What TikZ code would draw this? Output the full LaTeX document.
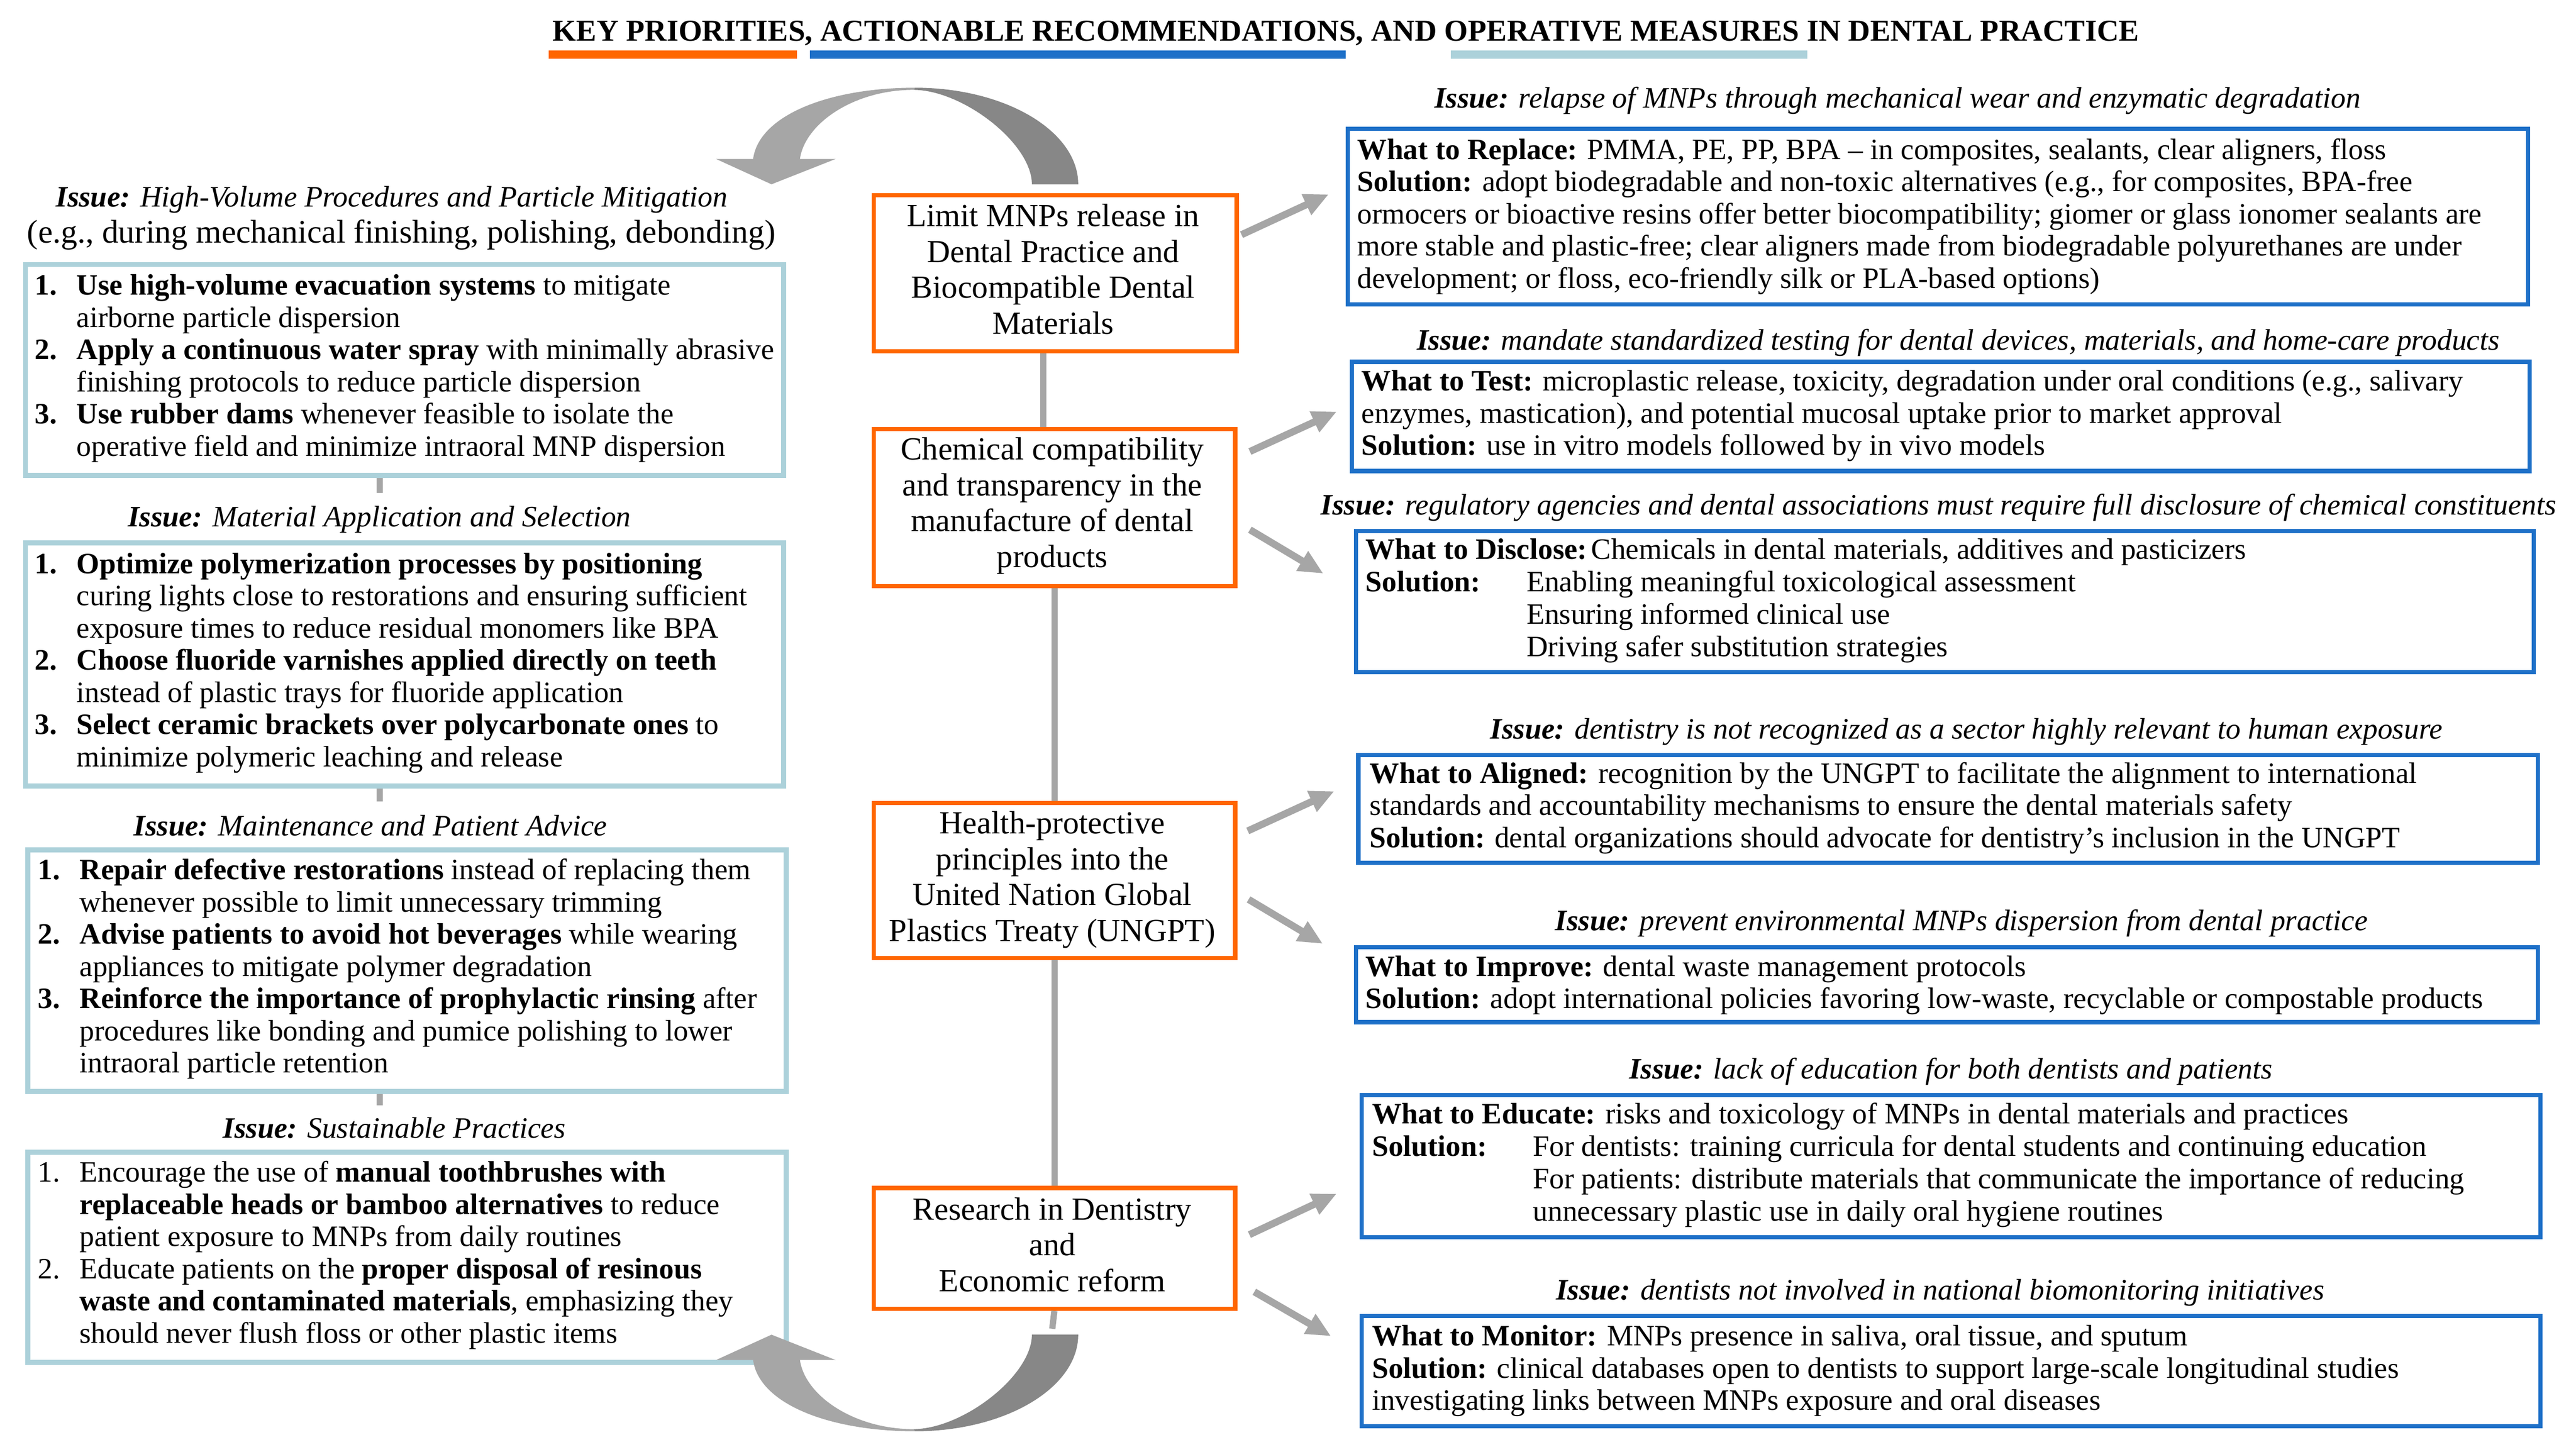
\documentclass[tikz,border=0pt]{standalone}
\usepackage{fontspec}
\setmainfont{Liberation Serif}
\usetikzlibrary{arrows.meta}
\definecolor{orng}{RGB}{255,102,0}
\definecolor{blu}{RGB}{30,112,200}
\definecolor{lblu}{RGB}{172,209,218}
\definecolor{agray}{RGB}{166,166,166}
\definecolor{dgray}{RGB}{135,135,135}
\newcommand\LL[1]{\vtop{\halign{##\hfil\cr#1\crcr}}}
\newcommand\CL[1]{\vtop{\halign{\hfil##\hfil\cr#1\crcr}}}
\newcommand\nm[1]{\makebox[25.5pt][l]{#1}}
\newcommand\ind{\hspace*{25.5pt}}
\newcommand\sol[1]{\makebox[98pt][l]{\textbf{#1}}}
\newcommand\tb{\hspace*{98pt}}
\newcommand\cyclearrow{%
 \fill[dgray] (656.3,112.2) .. controls (656.3,79.7) and (611.7,53.4) .. (557,53.4)
   -- (555.9,54.7) .. controls (585.9,54.7) and (628.1,87.2) .. (628.1,112.2) -- cycle;
 \fill[agray] (557,53.4) .. controls (505,53.4) and (462,70) .. (458.4,96.8)
   -- (435.9,96.8) -- (469.6,112.2) -- (508.6,96.8) -- (486.9,96.8)
   .. controls (490,75) and (520,54.7) .. (555.9,54.7) -- cycle;}
\tikzset{
 lbox/.style={draw=lblu, line width=3pt, anchor=north west, inner sep=0pt},
 obox/.style={draw=orng, line width=2.6pt, anchor=north west, inner sep=0pt},
 bbox/.style={draw=blu, line width=2.6pt, anchor=north west, inner sep=0pt},
 body/.style={anchor=base west, inner sep=0pt, font=\fontsize{18}{19.6}\selectfont},
 ctext/.style={anchor=base, inner sep=0pt, font=\fontsize{19.6}{21.8}\selectfont},
 issue/.style={anchor=base, inner sep=0pt, font=\fontsize{18.1}{20}\selectfont\itshape},
 vline/.style={draw=agray, line width=3.8pt},
 diag/.style={draw=agray, line width=4.3pt, -{Triangle[length=15pt,width=13pt]}},
}
\begin{document}
\begin{tikzpicture}[x=1pt, y=-1pt]
\useasboundingbox (0,0) rectangle (1568,884);
\fill[white] (0,0) rectangle (1568,884);

% title
\node[anchor=base, inner sep=0pt, font=\fontsize{18.5}{20}\selectfont\bfseries] (title) at (819.3,24.8)
 {KEY PRIORITIES, ACTIONABLE RECOMMENDATIONS, AND OPERATIVE MEASURES IN DENTAL PRACTICE};
\fill[orng] (334,30.6) rectangle (485,35.7);
\fill[blu] (493,30.6) rectangle (819,35.7);
\fill[lblu] (883,30.6) rectangle (1100,35.7);

% left column
\node[issue] (i1a) at (238.5,125.8) {\textbf{Issue:} High-Volume Procedures and Particle Mitigation};
\node[anchor=base, inner sep=0pt, font=\fontsize{20}{22}\selectfont] (i1b) at (244.3,147.8)
 {(e.g., during mechanical finishing, polishing, debonding)};
\node[lbox, minimum width=461.5pt, minimum height=128.5pt] (box1) at (14,159.5) {};
\node[body] (box1t) at (21,179.6) {\LL{%
\nm{\textbf{1.}}\textbf{Use high-volume evacuation systems} to mitigate\cr
\ind airborne particle dispersion\cr
\nm{\textbf{2.}}\textbf{Apply a continuous water spray} with minimally abrasive\cr
\ind finishing protocols to reduce particle dispersion\cr
\nm{\textbf{3.}}\textbf{Use rubber dams} whenever feasible to isolate the\cr
\ind operative field and minimize intraoral MNP dispersion}};

\node[issue] (i2) at (231,320.6) {\textbf{Issue:} Material Application and Selection};
\node[lbox, minimum width=461.5pt, minimum height=148pt] (box2) at (14,329) {};
\node[body] (box2t) at (21,349.1) {\LL{%
\nm{\textbf{1.}}\textbf{Optimize polymerization processes by positioning}\cr
\ind curing lights close to restorations and ensuring sufficient\cr
\ind exposure times to reduce residual monomers like BPA\cr
\nm{\textbf{2.}}\textbf{Choose fluoride varnishes applied directly on teeth}\cr
\ind instead of plastic trays for fluoride application\cr
\nm{\textbf{3.}}\textbf{Select ceramic brackets over polycarbonate ones} to\cr
\ind minimize polymeric leaching and release}};

\node[issue] (i3) at (225.5,508.7) {\textbf{Issue:} Maintenance and Patient Advice};
\node[lbox, minimum width=461.5pt, minimum height=147pt] (box3) at (15.5,516) {};
\node[body] (box3t) at (22.8,535.5) {\LL{%
\nm{\textbf{1.}}\textbf{Repair defective restorations} instead of replacing them\cr
\ind whenever possible to limit unnecessary trimming\cr
\nm{\textbf{2.}}\textbf{Advise patients to avoid hot beverages} while wearing\cr
\ind appliances to mitigate polymer degradation\cr
\nm{\textbf{3.}}\textbf{Reinforce the importance of prophylactic rinsing} after\cr
\ind procedures like bonding and pumice polishing to lower\cr
\ind intraoral particle retention}};

\node[issue] (i4) at (240,692.8) {\textbf{Issue:} Sustainable Practices};
\node[lbox, minimum width=461.5pt, minimum height=128pt] (box4) at (15.5,700) {};
\node[body] (box4t) at (22.8,719.6) {\LL{%
\nm{1.}Encourage the use of \textbf{manual toothbrushes with}\cr
\ind\textbf{replaceable heads or bamboo alternatives} to reduce\cr
\ind patient exposure to MNPs from daily routines\cr
\nm{2.}Educate patients on the \textbf{proper disposal of resinous}\cr
\ind\textbf{waste and contaminated materials}, emphasizing they\cr
\ind should never flush floss or other plastic items}};

\coordinate (l1) at (231,300);
\coordinate (l2) at (231,488);
\coordinate (l3) at (231,673);
\draw[vline] (l1 |- box1.south) -- (l1);
\draw[vline] (l2 |- box2.south) -- (l2);
\draw[vline] (l3 |- box3.south) -- (l3);

% centre column
\node[obox, minimum width=221pt, minimum height=95pt] (A) at (530.5,117.5) {};
\node[ctext] (At) at (641,137.9) {\CL{Limit MNPs release in\cr Dental Practice and\cr Biocompatible Dental\cr Materials}};
\node[obox, minimum width=220pt, minimum height=95.5pt] (B) at (530.5,260) {};
\node[ctext] (Bt) at (640.5,280) {\CL{Chemical compatibility\cr and transparency in the\cr manufacture of dental\cr products}};
\node[obox, minimum width=220pt, minimum height=94.5pt] (C) at (530.5,487.5) {};
\node[ctext] (Ct) at (640.5,507.6) {\CL{Health-protective\cr principles into the\cr United Nation Global\cr Plastics Treaty (UNGPT)}};
\node[obox, minimum width=220pt, minimum height=73.5pt] (D) at (530.5,722) {};
\node[ctext] (Dt) at (640.5,742.7) {\CL{Research in Dentistry\cr and\cr Economic reform}};

\coordinate (cx1) at (635,0);
\coordinate (tailb) at (640.5,809);
\draw[vline] (A.south -| cx1) -- (B.north -| cx1);
\draw[vline] (B.south) -- (C.north);
\draw[vline] (C.south) -- (D.north);
\draw[vline] (D.south) -- (tailb);

% right column
\node[issue] (r1i) at (1155,65.6) {\textbf{Issue:} relapse of MNPs through mechanical wear and enzymatic degradation};
\node[bbox, minimum width=718.5pt, minimum height=107pt] (R1) at (819,77) {};
\node[body] (R1t) at (826,96.9) {\LL{%
\textbf{What to Replace:} PMMA, PE, PP, BPA -- in composites, sealants, clear aligners, floss\cr
\textbf{Solution:} adopt biodegradable and non-toxic alternatives (e.g., for composites, BPA-free\cr
ormocers or bioactive resins offer better biocompatibility; giomer or glass ionomer sealants are\cr
more stable and plastic-free; clear aligners made from biodegradable polyurethanes are under\cr
development; or floss, eco-friendly silk or PLA-based options)}};

\node[issue] (r2i) at (1192,213) {\textbf{Issue:} mandate standardized testing for dental devices, materials, and home-care products};
\node[bbox, minimum width=717pt, minimum height=66.5pt] (R2) at (821.5,219) {};
\node[body] (R2t) at (828.6,238) {\LL{%
\textbf{What to Test:} microplastic release, toxicity, degradation under oral conditions (e.g., salivary\cr
enzymes, mastication), and potential mucosal uptake prior to market approval\cr
\textbf{Solution:} use in vitro models followed by in vivo models}};

\node[issue] (r3i) at (1180,313.4) {\textbf{Issue:} regulatory agencies and dental associations must require full disclosure of chemical constituents};
\node[bbox, minimum width=717pt, minimum height=86pt] (R3) at (824,322) {};
\node[body, font=\fontsize{18}{19.8}\selectfont] (R3t) at (831,340.4) {\LL{%
\textbf{What to Disclose:}\hspace{2.5pt}Chemicals in dental materials, additives and pasticizers\cr
\sol{Solution:}Enabling meaningful toxicological assessment\cr
\tb Ensuring informed clinical use\cr
\tb Driving safer substitution strategies}};

\node[issue] (r4i) at (1197,449.7) {\textbf{Issue:} dentistry is not recognized as a sector highly relevant to human exposure};
\node[bbox, minimum width=718pt, minimum height=65.5pt] (R4) at (825.5,458.5) {};
\node[body] (R4t) at (833.6,476.7) {\LL{%
\textbf{What to Aligned:} recognition by the UNGPT to facilitate the alignment to international\cr
standards and accountability mechanisms to ensure the dental materials safety\cr
\textbf{Solution:} dental organizations should advocate for dentistry's inclusion in the UNGPT}};

\node[issue] (r5i) at (1194,566.6) {\textbf{Issue:} prevent environmental MNPs dispersion from dental practice};
\node[bbox, minimum width=719.5pt, minimum height=45.5pt] (R5) at (824,575.5) {};
\node[body] (R5t) at (831,594.3) {\LL{%
\textbf{What to Improve:} dental waste management protocols\cr
\textbf{Solution:} adopt international policies favoring low-waste, recyclable or compostable products}};

\node[issue] (r6i) at (1187.5,656.8) {\textbf{Issue:} lack of education for both dentists and patients};
\node[bbox, minimum width=717.5pt, minimum height=86.5pt] (R6) at (827.5,665.5) {};
\node[body, font=\fontsize{18}{19.8}\selectfont] (R6t) at (835,684.1) {\LL{%
\textbf{What to Educate:} risks and toxicology of MNPs in dental materials and practices\cr
\sol{Solution:}For dentists: training curricula for dental students and continuing education\cr
\tb For patients: distribute materials that communicate the importance of reducing\cr
\tb unnecessary plastic use in daily oral hygiene routines}};

\node[issue] (r7i) at (1181,791.3) {\textbf{Issue:} dentists not involved in national biomonitoring initiatives};
\node[bbox, minimum width=717.5pt, minimum height=67pt] (R7) at (827.5,800) {};
\node[body] (R7t) at (835,819.3) {\LL{%
\textbf{What to Monitor:} MNPs presence in saliva, oral tissue, and sputum\cr
\textbf{Solution:} clinical databases open to dentists to support large-scale longitudinal studies\cr
investigating links between MNPs exposure and oral diseases}};

% diagonal arrows
\coordinate (a1s) at (755.7,142.9); \coordinate (a1e) at (808.8,118.3);
\coordinate (a2s) at (760.8,274.9); \coordinate (a2e) at (813.7,250.6);
\coordinate (a3s) at (760.8,322.5); \coordinate (a3e) at (805.5,349.2);
\coordinate (a4s) at (759.5,505.9); \coordinate (a4e) at (812.2,481.7);
\coordinate (a5s) at (760,547.6);   \coordinate (a5e) at (805.2,574.6);
\coordinate (a6s) at (760.5,751.7); \coordinate (a6e) at (813.6,726.8);
\coordinate (a7s) at (763.5,786.5); \coordinate (a7e) at (810.2,813.5);
\draw[diag] (a1s) -- (a1e);
\draw[diag] (a2s) -- (a2e);
\draw[diag] (a3s) -- (a3e);
\draw[diag] (a4s) -- (a4e);
\draw[diag] (a5s) -- (a5e);
\draw[diag] (a6s) -- (a6e);
\draw[diag] (a7s) -- (a7e);

% curved arrows (drawn last, above the box borders)
\cyclearrow
\begin{scope}[shift={(0,924.8)}, yscale=-1]
\cyclearrow
\end{scope}
\end{tikzpicture}
\end{document}
